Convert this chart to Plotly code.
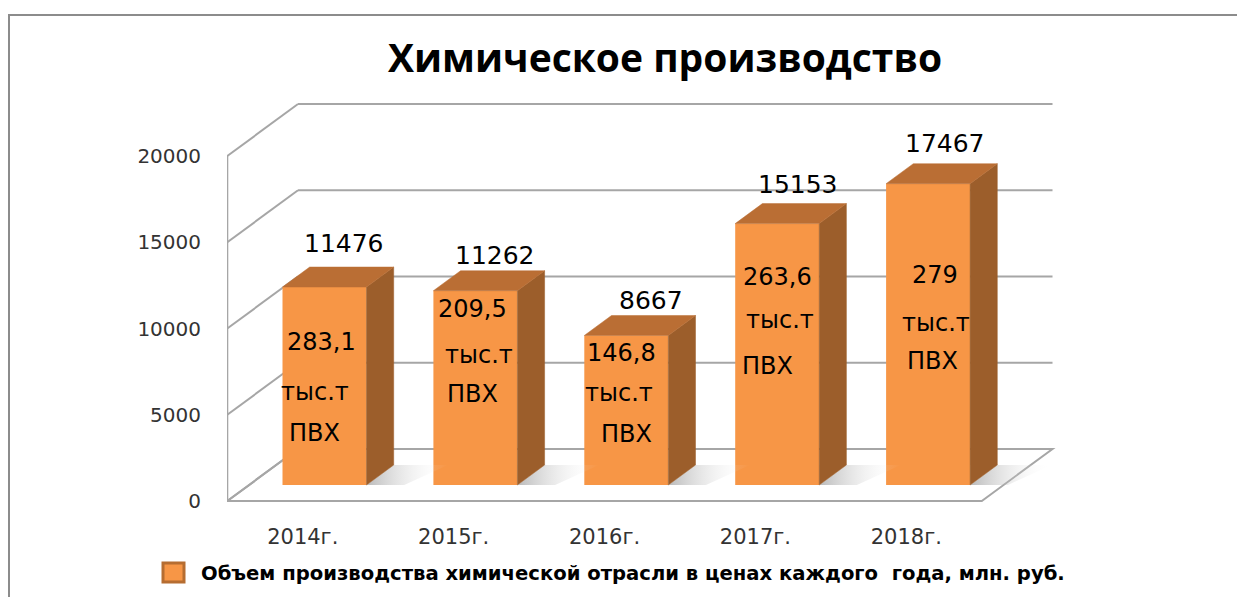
import plotly.graph_objects as go

# ---------------- data ----------------
title_text = "Химическое производство"
categories = ["2014г.", "2015г.", "2016г.", "2017г.", "2018г."]
values = [11476, 11262, 8667, 15153, 17467]
pvc_amounts = ["283,1", "209,5", "146,8", "263,6", "279"]
pvc_unit = ["тыс.т", "тыс.т", "тыс.т", "тыс.т", "тыс.т"]
pvc_name = ["ПВХ", "ПВХ", "ПВХ", "ПВХ", "ПВХ"]
y_ticks = [0, 5000, 10000, 15000, 20000]
series_name = "Объем производства химической отрасли в ценах каждого  года, млн. руб."

# ---------------- geometry / style ----------------
W, H = 1245, 597
PAGE = 8                            # page body margin compensation (px)
ML = 227 - PAGE
PLOT_BOTTOM = 505 - PAGE
MB = H - PLOT_BOTTOM
PX_PER_X = 150.9                    # px per category step
X0PX = 324.5 - PAGE                 # px of first category (bar front plane)
PX_PER_V = 345 / 20000              # px per value unit
BASE_PX = 485 - PAGE                # px of value 0 on bar front plane
SLOPE = 1.36                        # depth: px right per px up
BAR_W = 84 / PX_PER_X
BAR_D = 20                          # bar depth (px up)
FLOOR_FRONT, FLOOR_BACK = -16, 36   # depth of floor front / back wall

x_range = [(ML - X0PX) / PX_PER_X, (W - X0PX) / PX_PER_X]
y_range = [-(PLOT_BOTTOM - BASE_PX) / PX_PER_V, BASE_PX / PX_PER_V]

FRONT = "#F79646"
TOP = "#BA6E34"
SIDE = "#9C5E2B"
GRID = "#A6A6A6"
FONT = "DejaVu Sans"


def proj(x, v, z):
    """project a point at depth z (px) onto the front data plane"""
    return x + SLOPE * z / PX_PER_X, v + z / PX_PER_V


def px2paper(px, py):
    px, py = px - PAGE, py - PAGE
    return (px - ML) / (W - ML), (PLOT_BOTTOM - py) / PLOT_BOTTOM


n = len(categories)
x_lo, x_hi = -0.5, n - 0.5

shapes = []


def seg(p, q, color=GRID, width=2):
    shapes.append(dict(type="line", xref="x", yref="y", layer="below",
                       x0=p[0], y0=p[1], x1=q[0], y1=q[1],
                       line=dict(color=color, width=width)))


# floor
fl = [proj(x_lo, 0, FLOOR_FRONT), proj(x_hi, 0, FLOOR_FRONT),
      proj(x_hi, 0, FLOOR_BACK), proj(x_lo, 0, FLOOR_BACK)]
path = "M " + " L ".join(f"{a},{b}" for a, b in fl) + " Z"
shapes.append(dict(type="path", xref="x", yref="y", layer="below", path=path,
                   fillcolor="white", line=dict(color=GRID, width=2)))
# walls / gridlines
seg(proj(x_lo, 0, FLOOR_FRONT), proj(x_lo, y_ticks[-1], FLOOR_FRONT))
for v in y_ticks:
    seg(proj(x_lo, v, FLOOR_FRONT), proj(x_lo, v, FLOOR_BACK))
    seg(proj(x_lo, v, FLOOR_BACK), proj(x_hi, v, FLOOR_BACK))

fig = go.Figure()

# shadows on the floor
for i, v in enumerate(values):
    xr = i + BAR_W / 2
    pts = [proj(xr, 0, 0), proj(xr + 0.25, 0, 0), proj(xr + 0.36, 0, BAR_D),
           proj(xr, 0, BAR_D)]
    fig.add_trace(go.Scatter(
        x=[p[0] for p in pts] + [pts[0][0]], y=[p[1] for p in pts] + [pts[0][1]],
        mode="lines", line=dict(width=0), fill="toself",
        fillgradient=dict(type="horizontal",
                          colorscale=[[0, "rgba(130,130,130,0.55)"],
                                      [1, "rgba(255,255,255,0)"]]),
        hoverinfo="skip", showlegend=False))

# bar front faces
fig.add_trace(go.Bar(x=list(range(n)), y=values, width=BAR_W,
                     marker=dict(color=FRONT, line=dict(width=0)),
                     name=series_name, showlegend=False, hoverinfo="skip"))

# bar side and top faces
for i, v in enumerate(values):
    xl, xr = i - BAR_W / 2, i + BAR_W / 2
    side = [proj(xr, 0, 0), proj(xr, v, 0), proj(xr, v, BAR_D), proj(xr, 0, BAR_D)]
    top = [proj(xl, v, 0), proj(xr, v, 0), proj(xr, v, BAR_D), proj(xl, v, BAR_D)]
    for poly, col in ((side, SIDE), (top, TOP)):
        fig.add_trace(go.Scatter(
            x=[p[0] for p in poly] + [poly[0][0]],
            y=[p[1] for p in poly] + [poly[0][1]],
            mode="lines", line=dict(width=0.5, color=col), fill="toself",
            fillcolor=col, hoverinfo="skip", showlegend=False))

annotations = []
# value labels above bars (x shift, y shift in px)
value_label_offsets = [(19.5, 44), (19.6, 35), (24.7, 34.5), (20.8, 39.6), (16.9, 39.7)]
for i, v in enumerate(values):
    dx, dy = value_label_offsets[i]
    annotations.append(dict(x=i, y=v, xref="x", yref="y", text=str(v), showarrow=False,
                            xshift=dx, yshift=dy, xanchor="center", yanchor="middle",
                            font=dict(family=FONT, size=25, color="black")))

# inner labels (x shift, y shift in px from bar top centre)
inner_offsets = [
    [(-3.5, -55), (-9.5, -105), (-10.5, -146)],
    [(-3.4, -18.3), (3.6, -64.3), (-3.4, -103.3)],
    [(-5.3, -17.5), (-7.3, -57.5), (-0.3, -98.5)],
    [(-0.2, -53.4), (2.8, -96.4), (-10.2, -142.4)],
    [(6.9, -91.3), (7.9, -139.3), (3.9, -177.3)],
]
for i, v in enumerate(values):
    for txt, (dx, dy) in zip([pvc_amounts[i], pvc_unit[i], pvc_name[i]], inner_offsets[i]):
        annotations.append(dict(x=i, y=v, xref="x", yref="y", text=txt, showarrow=False,
                                xshift=dx, yshift=dy, xanchor="center", yanchor="middle",
                                font=dict(family=FONT, size=24, color="black")))

# custom legend
lx0, ly0 = px2paper(163, 563)
lx1, ly1 = px2paper(184, 582)
shapes.append(dict(type="rect", xref="paper", yref="paper", x0=lx0, y0=ly0, x1=lx1, y1=ly1,
                   fillcolor=FRONT, line=dict(color="#B66D31", width=3), layer="above"))
tx, ty = px2paper(199, 573)
annotations.append(dict(x=tx, y=ty, xref="paper", yref="paper", text=series_name,
                        showarrow=False, xanchor="left", yanchor="middle",
                        font=dict(family="DejaVu Sans", size=19.6, color="black", weight="bold")))

# outer frame
fx0, fy0 = px2paper(9, 15)
fx1, fy1 = px2paper(1300, 650)
shapes.append(dict(type="rect", xref="paper", yref="paper", x0=fx0, y0=fy1, x1=fx1, y1=fy0,
                   line=dict(color="#8C8C8C", width=2), fillcolor="rgba(0,0,0,0)", layer="above"))

front_shift_x = -SLOPE * (0 - FLOOR_FRONT) / PX_PER_X
front_shift_v = FLOOR_FRONT / PX_PER_V

fig.update_layout(
    width=W, height=H,
    margin=dict(l=ML, r=0, t=0, b=MB),
    paper_bgcolor="white", plot_bgcolor="rgba(0,0,0,0)",
    showlegend=False,
    title=dict(text=title_text, x=(665 - PAGE) / W, y=1 - (58 - PAGE) / H,
               xref="container", yref="container", xanchor="center", yanchor="middle",
               font=dict(family="Open Sans", size=39, color="black", weight="bold")),
    xaxis=dict(range=x_range, showgrid=False, zeroline=False, showline=False,
               tickmode="array", tickvals=[i + front_shift_x for i in range(n)],
               ticktext=categories, ticks="", ticklabelstandoff=17,
               tickfont=dict(family=FONT, size=21, color="#333333")),
    yaxis=dict(range=y_range, showgrid=False, zeroline=False, showline=False,
               tickmode="array", tickvals=[v + front_shift_v for v in y_ticks],
               ticktext=[str(v) for v in y_ticks], ticks="", ticklabelstandoff=25,
               tickfont=dict(family=FONT, size=20, color="#333333")),
    shapes=shapes, annotations=annotations,
)

fig.write_html("out.html")
